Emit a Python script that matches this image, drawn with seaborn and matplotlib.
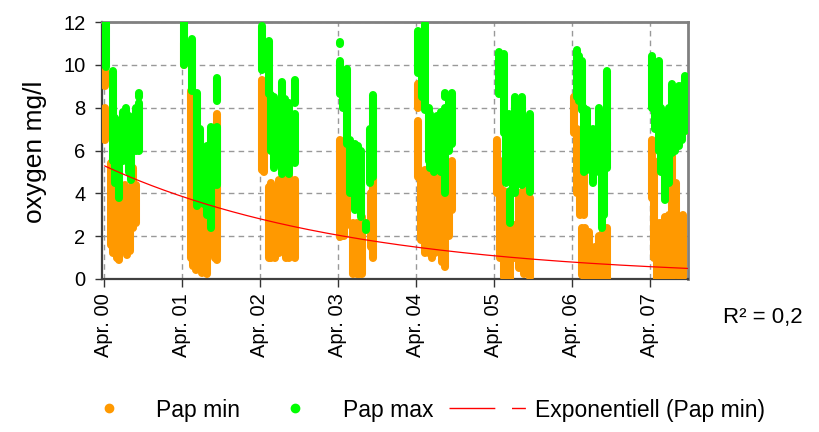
import numpy as np
import pandas as pd
import matplotlib
matplotlib.use("Agg")
from matplotlib import pyplot as plt
import matplotlib.dates as mdates
from matplotlib.lines import Line2D
import seaborn as sns

# measurement streaks: season year, days after 1 April, lowest and highest value (mg/l)
min_year = ([2000] * 13 + [2001] * 10 + [2002] * 13 + [2003] * 11 + [2004] * 12
            + [2005] * 10 + [2006] * 12 + [2007] * 11)
min_day = [8, 8, 33, 45, 55, 64, 73, 90, 100, 110, 122, 136, 150,
           11, 42, 55, 68, 81, 95, 108, 120, 155, 167,
           11, 20, 42, 42, 55, 73, 90, 112, 125, 136, 150, 160, 167,
           11, 20, 30, 42, 70, 78, 89, 100, 115, 155, 167,
           9, 9, 25, 45, 60, 76, 92, 108, 122, 139, 155, 170,
           16, 30, 47, 60, 78, 100, 120, 140, 156, 172,
           9, 25, 40, 50, 60, 64, 80, 110, 126, 145, 166, 166,
           11, 22, 34, 50, 73, 90, 105, 125, 144, 155, 167]
min_lo = [9.0, 6.5, 1.6, 1.2, 2.0, 1.0, 0.9, 1.8, 1.5, 1.1, 1.3, 2.4, 2.6,
          10.0, 1.0, 0.6, 0.4, 0.7, 0.3, 0.5, 0.25, 1.0, 0.9,
          5.1, 5.0, 8.65, 1.0, 1.0, 1.0, 1.2, 1.3, 1.0, 1.0, 1.2, 6.2, 1.0,
          1.95, 2.0, 2.0, 2.5, 0.25, 0.3, 0.25, 0.25, 0.25, 1.5, 1.0,
          8.0, 4.75, 1.8, 1.2, 1.2, 1.0, 1.2, 1.5, 0.8, 0.55, 2.0, 3.2,
          4.0, 1.0, 0.1, 0.2, 0.0, 1.0, 0.5, 0.25, 0.3, 0.1,
          6.8, 4.0, 3.0, 0.2, 3.0, 0.0, 0.1, 0.0, 0.0, 0.0, 0.0, 6.2,
          3.8, 1.0, 0.0, 0.1, 0.0, 0.1, 0.1, 0.2, 0.1, 0.1, 6.9]
min_hi = [9.7, 8.0, 5.4, 4.2, 4.6, 3.8, 3.2, 4.3, 4.4, 4.0, 3.6, 5.2, 4.4,
          11.0, 8.8, 6.0, 4.5, 4.8, 3.6, 3.0, 3.2, 5.0, 7.7,
          9.3, 8.5, 9.6, 4.3, 4.5, 4.3, 4.6, 5.1, 4.2, 4.8, 4.5, 7.2, 4.6,
          6.5, 6.2, 6.0, 5.5, 2.6, 2.5, 2.6, 2.5, 2.9, 4.0, 4.75,
          9.1, 7.4, 5.0, 5.1, 4.8, 5.0, 4.6, 4.9, 4.4, 4.1, 4.8, 5.5,
          6.5, 5.5, 4.1, 3.5, 2.4, 2.5, 4.0, 5.1, 4.5, 3.8,
          8.5, 7.0, 6.5, 2.4, 5.0, 2.4, 2.2, 1.5, 2.0, 2.2, 2.4, 6.4,
          6.5, 5.5, 2.6, 2.6, 2.9, 3.0, 6.2, 4.5, 2.6, 3.0, 7.2]

max_year = ([2000] * 11 + [2001] * 10 + [2002] * 11 + [2003] * 11 + [2004] * 12
            + [2005] * 11 + [2006] * 10 + [2007] * 11)
max_day = [12, 42, 55, 73, 90, 105, 118, 130, 150, 167, 167,
           11, 50, 73, 85, 105, 120, 136, 150, 167, 167,
           11, 42, 55, 66, 80, 105, 120, 136, 150, 167, 167,
           11, 11, 25, 42, 60, 81, 95, 112, 133, 150, 167,
           9, 30, 45, 60, 69, 85, 100, 120, 139, 139, 155, 170,
           23, 47, 60, 70, 78, 90, 101, 118, 133, 155, 172,
           25, 35, 48, 60, 72, 100, 126, 140, 153, 166,
           11, 25, 42, 55, 73, 90, 105, 120, 136, 152, 167]
max_lo = [9.9, 5.5, 4.5, 3.8, 5.5, 5.7, 5.0, 4.6, 6.0, 6.0, 8.5,
          10.0, 8.8, 3.4, 4.0, 3.5, 3.0, 2.4, 4.4, 8.3, 4.4,
          9.75, 8.65, 6.0, 5.2, 5.5, 4.9, 5.2, 4.9, 5.5, 8.2, 5.4,
          10.95, 8.65, 8.0, 6.3, 4.0, 3.2, 3.5, 2.9, 2.3, 4.5, 4.75,
          9.6, 8.5, 7.9, 5.5, 5.2, 5.0, 5.1, 5.0, 4.0, 8.5, 6.0, 6.3,
          8.65, 6.8, 4.5, 4.75, 2.6, 4.2, 4.0, 4.5, 4.4, 4.5, 4.05,
          8.5, 8.3, 7.9, 5.0, 5.1, 4.5, 5.0, 2.4, 3.0, 5.2,
          8.0, 7.0, 6.0, 5.0, 3.7, 4.5, 5.9, 6.0, 6.2, 6.5, 6.9]
max_hi = [12.0, 9.7, 7.5, 7.4, 7.8, 8.0, 7.6, 7.4, 8.0, 8.2, 8.7,
          12.0, 11.2, 8.7, 7.0, 5.8, 6.2, 7.1, 6.8, 9.4, 7.1,
          11.8, 11.1, 8.6, 8.5, 8.2, 9.2, 8.4, 8.2, 7.5, 9.3, 7.7,
          11.05, 10.2, 9.6, 9.8, 6.5, 6.3, 6.2, 6.0, 2.6, 7.0, 8.6,
          11.6, 10.5, 11.9, 8.0, 7.7, 7.5, 7.6, 7.8, 8.0, 8.7, 8.4, 8.7,
          10.6, 10.5, 7.4, 7.7, 4.1, 6.5, 8.5, 7.8, 8.5, 7.5, 7.7,
          10.7, 10.4, 10.2, 8.0, 7.9, 7.0, 8.0, 5.5, 6.0, 9.7,
          10.4, 10.0, 10.2, 8.0, 6.5, 8.0, 9.1, 8.8, 9.0, 9.0, 9.5]

# exponential trend of Pap min: y = a * exp(b * years since Apr 2000)
trend_a = 5.3
trend_b = -0.317

orange = "#FF9900"
green = "#00FF00"


def streaks(years, days, lo, hi):
    dates = pd.to_datetime([f"{y}-04-01" for y in years]) + pd.to_timedelta(days, unit="D")
    rows = []
    for i, d in enumerate(dates):
        rows.append((i, d, lo[i]))
        rows.append((i, d, hi[i]))
    return pd.DataFrame(rows, columns=["seg", "date", "oxygen"])


sns.set_style("white")
plt.rcParams["font.family"] = ["Liberation Sans", "DejaVu Sans"]
plt.rcParams["text.color"] = "black"
plt.rcParams["xtick.color"] = "black"
plt.rcParams["ytick.color"] = "black"

fig = plt.figure(figsize=(8.19, 4.32), dpi=100)
ax = fig.add_axes([102 / 819, 1 - 279 / 432, 586 / 819, 257 / 432])

df_min = streaks(min_year, min_day, min_lo, min_hi)
df_max = streaks(max_year, max_day, max_lo, max_hi)

sns.lineplot(data=df_min, x="date", y="oxygen", units="seg", estimator=None, sort=False,
             color=orange, lw=5.8, solid_capstyle="round", legend=False, ax=ax, zorder=3)
sns.lineplot(data=df_max, x="date", y="oxygen", units="seg", estimator=None, sort=False,
             color=green, lw=5.8, solid_capstyle="round", legend=False, ax=ax, zorder=4)

t = pd.date_range("2000-04-05", "2007-09-26", freq="D")
yrs = (t - pd.Timestamp("2000-04-01")).days / 365.25
sns.lineplot(x=t, y=trend_a * np.exp(trend_b * yrs), color="red", lw=0.9, ax=ax, zorder=5)

ax.set_xlim(pd.Timestamp("2000-03-24"), pd.Timestamp("2007-09-28"))
ax.set_ylim(0, 12)
ax.set_yticks(range(0, 13, 2))
ax.xaxis.set_major_locator(mdates.MonthLocator(bymonth=4))
ax.xaxis.set_major_formatter(mdates.DateFormatter("%b. %y"))
ax.tick_params(axis="x", labelsize=14.5, rotation=90, length=6, width=1, color="#333333",
               labelcolor="black", direction="out", bottom=True, pad=4)
ax.tick_params(axis="y", labelsize=14.5, length=5, width=1, color="#333333",
               labelcolor="black", direction="out", left=True, pad=7)
for lab in ax.get_xticklabels():
    lab.set_va("top")
    lab.set_ha("center")

ax.grid(True, color="#999999", lw=1, linestyle=(0, (4, 3)))
ax.set_axisbelow(True)
ax.set_xlabel("")
ax.set_ylabel("")

for side in ["left", "bottom"]:
    ax.spines[side].set_color("#404040")
    ax.spines[side].set_linewidth(1.6)
for side in ["top", "right"]:
    ax.spines[side].set_color("#808080")
    ax.spines[side].set_linewidth(2)

fig.text(35 / 819, 1 - 152 / 432, "oxygen mg/l", rotation=90, fontsize=19,
         ha="center", va="center", color="black")
fig.text(723 / 819, 1 - 317 / 432, "R² = 0,2", fontsize=16, ha="left", va="center",
         color="black")

handles = [
    Line2D([], [], ls="none", marker="o", markersize=6, markerfacecolor=orange, markeredgecolor=orange),
    Line2D([], [], ls="none", marker="o", markersize=6, markerfacecolor=green, markeredgecolor=green),
    Line2D([], [], color="red", lw=1, dashes=(33, 12, 10, 60)),
]
fig.legend(handles, ["Pap min", "Pap max", "Exponentiell (Pap min)"], loc="center",
           bbox_to_anchor=(0.51, 1 - 410 / 432), ncol=3, frameon=False, fontsize=16.5,
           handlelength=3.4, handletextpad=0.36, columnspacing=0.7, labelcolor="black")

fig.savefig("out.png", dpi=100)
